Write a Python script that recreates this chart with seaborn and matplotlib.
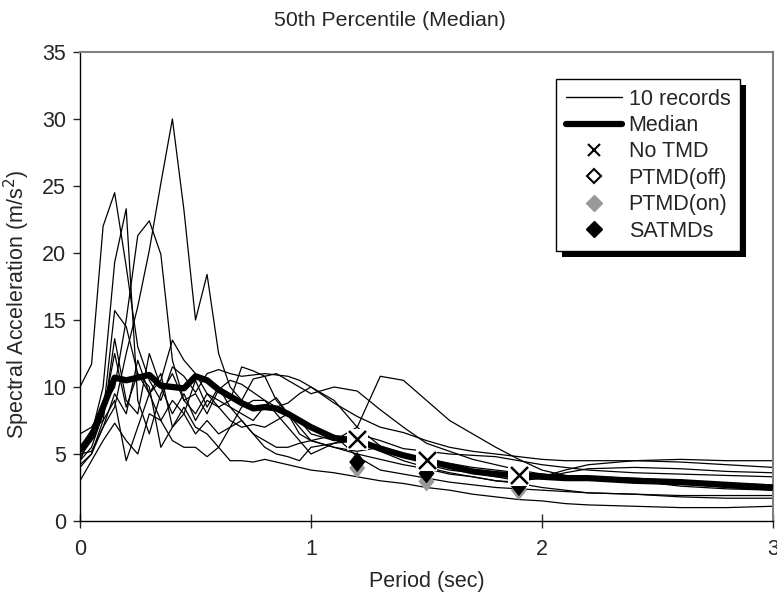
import numpy as np
import pandas as pd
import matplotlib
matplotlib.use("Agg")
import matplotlib.pyplot as plt
from matplotlib.lines import Line2D
from matplotlib.patches import Rectangle
from matplotlib.path import Path
from matplotlib.transforms import IdentityTransform
import seaborn as sns

# ---------------- data ----------------
period = [0, 0.05, 0.1, 0.15, 0.2, 0.25, 0.3, 0.35, 0.4, 0.45, 0.5, 0.55, 0.6, 0.65,
          0.7, 0.75, 0.8, 0.85, 0.9, 0.95, 1.0, 1.1, 1.2, 1.3, 1.4, 1.5, 1.6, 1.7,
          1.8, 1.9, 2.0, 2.1, 2.2, 2.4, 2.6, 2.8, 3.0]

rec1 = [10.0, 11.7, 22.0, 24.5, 19.0, 13.0, 10.5, 9.0, 11.5, 10.8, 9.6, 11.0, 11.3, 11.0, 10.8, 10.9, 11.0, 10.9, 10.8, 10.5, 10.0, 8.8, 7.8, 7.0, 6.6, 6.0, 5.5, 5.2, 5.0, 4.8, 4.6, 4.5, 4.5, 4.5, 4.4, 4.2, 4.0]
rec2 = [4.5, 6.5, 10.0, 19.3, 23.3, 9.0, 6.5, 9.5, 11.0, 9.0, 8.0, 9.5, 9.0, 8.5, 8.0, 7.5, 8.6, 9.2, 8.0, 6.5, 6.0, 5.5, 5.2, 5.5, 5.0, 4.2, 3.8, 3.6, 3.3, 3.0, 3.2, 3.6, 3.9, 4.0, 3.9, 3.7, 3.6]
rec3 = [6.5, 7.0, 8.5, 10.0, 15.0, 21.3, 22.4, 19.9, 12.0, 9.0, 9.5, 8.0, 9.8, 10.5, 10.2, 9.6, 9.0, 8.5, 8.8, 9.5, 10.0, 9.0, 7.0, 5.6, 5.0, 4.6, 4.3, 4.0, 3.8, 3.6, 3.5, 3.4, 3.3, 3.2, 3.0, 2.8, 2.7]
rec4 = [5.0, 5.2, 7.0, 8.5, 12.5, 16.0, 20.2, 25.2, 30.0, 23.2, 15.0, 18.4, 12.5, 10.0, 9.0, 10.6, 10.8, 11.0, 10.5, 10.0, 9.5, 10.0, 9.7, 8.3, 7.0, 5.8, 5.2, 4.6, 4.2, 3.8, 3.5, 3.3, 3.2, 3.0, 2.6, 2.4, 2.3]
rec5 = [4.5, 5.5, 8.0, 15.7, 14.5, 11.0, 9.5, 10.5, 13.5, 12.0, 11.0, 9.5, 8.5, 9.0, 11.5, 11.2, 10.8, 9.0, 8.0, 7.5, 6.5, 6.0, 7.0, 10.8, 10.5, 9.0, 7.5, 6.5, 5.5, 4.6, 3.8, 3.4, 3.2, 3.0, 2.8, 2.5, 2.3]
rec6 = [4.0, 5.0, 7.5, 13.6, 9.0, 8.0, 12.5, 10.0, 8.0, 9.5, 7.5, 9.0, 8.5, 7.5, 7.0, 7.2, 7.0, 7.5, 8.0, 7.0, 6.0, 5.5, 5.0, 4.6, 4.2, 3.9, 3.5, 3.3, 3.0, 2.9, 3.3, 3.8, 4.2, 4.5, 4.6, 4.5, 4.5]
rec7 = [3.0, 4.5, 6.0, 7.3, 6.0, 5.0, 8.0, 7.5, 6.0, 5.5, 5.5, 4.8, 5.5, 4.5, 4.5, 4.4, 4.6, 4.4, 4.2, 4.0, 3.8, 3.6, 3.3, 3.0, 2.8, 2.5, 2.3, 2.0, 1.8, 1.6, 1.5, 1.3, 1.2, 1.1, 1.0, 1.0, 1.1]
rec8 = [4.2, 5.0, 7.0, 9.5, 8.0, 12.0, 9.5, 7.5, 9.0, 8.0, 6.5, 7.5, 6.5, 7.0, 7.5, 6.5, 5.5, 5.0, 4.8, 4.5, 5.5, 5.8, 6.0, 5.2, 4.5, 4.0, 3.6, 3.3, 3.0, 2.8, 2.5, 2.3, 2.1, 2.0, 1.9, 1.9, 1.9]
rec9 = [5.5, 6.8, 7.5, 9.0, 4.5, 7.0, 9.5, 11.0, 7.0, 8.0, 10.5, 8.5, 10.0, 8.5, 7.5, 6.5, 6.0, 5.5, 5.5, 5.8, 6.0, 6.4, 4.8, 3.8, 3.5, 3.2, 2.9, 2.7, 2.5, 2.4, 2.3, 2.2, 2.1, 2.0, 1.8, 1.7, 1.7]
rec10 = [4.8, 6.0, 8.0, 12.5, 8.5, 11.0, 10.0, 5.5, 7.0, 8.5, 7.0, 6.5, 5.5, 7.0, 8.5, 9.0, 9.0, 8.0, 7.0, 6.0, 5.0, 5.8, 6.5, 6.0, 5.4, 5.2, 5.0, 4.9, 4.8, 4.5, 4.2, 4.0, 3.8, 3.6, 3.5, 3.4, 3.3]
records = [rec1, rec2, rec3, rec4, rec5, rec6, rec7, rec8, rec9, rec10]

median = [5.3, 6.3, 8.5, 10.7, 10.5, 10.7, 10.9, 10.1, 10.0, 9.9, 10.8, 10.5, 9.8, 9.3, 8.8, 8.4, 8.5, 8.4, 8.0, 7.5, 7.0, 6.2, 6.0, 5.4, 4.9, 4.5, 4.1, 3.7, 3.5, 3.4, 3.3, 3.2, 3.2, 3.0, 2.9, 2.7, 2.5]

tmd_period = [1.2, 1.5, 1.9]
no_tmd = [6.1, 4.55, 3.4]
ptmd_on = [3.95, 2.95, 2.3]
satmds = [4.4, 3.55, 2.6]

xticks = [0, 1, 2, 3]
yticks = [0, 5, 10, 15, 20, 25, 30, 35]

# ---------------- figure ----------------
sns.set_style("white")
plt.rcParams["font.family"] = ["Liberation Sans", "DejaVu Sans"]

FS = 15.5
diamond = Path([(0, 1), (0.8, 0), (0, -1), (-0.8, 0), (0, 1)],
               [Path.MOVETO, Path.LINETO, Path.LINETO, Path.LINETO, Path.CLOSEPOLY])

fig = plt.figure(figsize=(7.77, 6.01), dpi=100)
ax = fig.add_axes([80 / 777, 80 / 601, 693 / 777, 469 / 601])

df_rec = pd.DataFrame({
    "period": np.tile(period, len(records)),
    "sa": np.concatenate(records),
    "rec": np.repeat(np.arange(len(records)), len(period)),
})
sns.lineplot(data=df_rec, x="period", y="sa", units="rec", estimator=None,
             color="black", lw=0.9, ax=ax, legend=False, zorder=2)

df_med = pd.DataFrame({"period": period, "sa": median})
sns.lineplot(data=df_med, x="period", y="sa", color="black", lw=4.5,
             ax=ax, legend=False, zorder=3)

df_tmd = pd.DataFrame({"period": tmd_period, "none": no_tmd,
                       "on": ptmd_on, "sa": satmds})
sns.scatterplot(data=df_tmd, x="period", y="on", marker=diamond, s=210,
                color="#999999", edgecolor="none", linewidth=0, ax=ax, zorder=4, legend=False)
sns.scatterplot(data=df_tmd, x="period", y="sa", marker=diamond, s=210,
                color="black", edgecolor="none", linewidth=0, ax=ax, zorder=5, legend=False)
sns.scatterplot(data=df_tmd, x="period", y="none", marker="s", s=230,
                color="white", edgecolor="none", ax=ax, zorder=6, legend=False)
sns.scatterplot(data=df_tmd, x="period", y="none", marker="x", s=150,
                color="black", linewidth=1.8, ax=ax, zorder=7, legend=False)

ax.set_xlim(0, 3)
ax.set_ylim(0, 35)
ax.set_xticks(xticks)
ax.set_yticks(yticks)
ax.set_xticklabels([str(t) for t in xticks])
ax.set_yticklabels([str(t) for t in yticks])
ax.tick_params(axis="x", direction="inout", length=10, width=1, labelsize=FS, pad=8)
ax.tick_params(axis="y", direction="out", length=5, width=1, labelsize=FS, pad=5)
ax.tick_params(bottom=True, left=True)

for side in ["left", "bottom"]:
    ax.spines[side].set_color("black")
    ax.spines[side].set_linewidth(1.0)
for side in ["top", "right"]:
    ax.spines[side].set_color("#808080")
    ax.spines[side].set_linewidth(1.5)

ax.set_xlabel("Period (sec)", fontsize=FS, labelpad=8)
ax.set_ylabel("Spectral Acceleration (m/s$^2$)", fontsize=FS)
ax.yaxis.set_label_coords((32 - 80) / 693, (521 - 304) / 469)
fig.text(390 / 777, 1 - 21 / 601, "50th Percentile (Median)", fontsize=15.3,
         ha="center", va="center")

handles = [
    Line2D([], [], color="black", lw=1.0),
    Line2D([], [], color="black", lw=4.5),
    Line2D([], [], color="black", marker="x", ls="none", markersize=9, mew=1.5),
    Line2D([], [], color="black", marker="D", ls="none", markersize=7,
           markerfacecolor="white", mew=1.5),
    Line2D([], [], color="#999999", marker="D", ls="none", markersize=8),
    Line2D([], [], color="black", marker="D", ls="none", markersize=8),
]
labels = ["10 records", "Median", "No TMD", "PTMD(off)", "PTMD(on)", "SATMDs"]
leg = ax.legend(handles, labels, loc="upper right",
                bbox_to_anchor=(660 / 693, (521 - 79) / 469),
                fontsize=FS, frameon=True, fancybox=False, shadow=False,
                framealpha=1.0, facecolor="white",
                edgecolor="black", handlelength=2.6, handletextpad=0.3,
                labelspacing=0.25, borderpad=0.45, borderaxespad=0)
leg.get_frame().set_linewidth(1.0)
leg.set_zorder(20)

fig.canvas.draw()
bb = leg.get_window_extent()
shadow = Rectangle((bb.x0 + 6, bb.y0 - 6), bb.width, bb.height,
                   transform=IdentityTransform(), facecolor="black",
                   edgecolor="none", zorder=19)
ax.add_artist(shadow)

fig.savefig("out.png", dpi=100)
